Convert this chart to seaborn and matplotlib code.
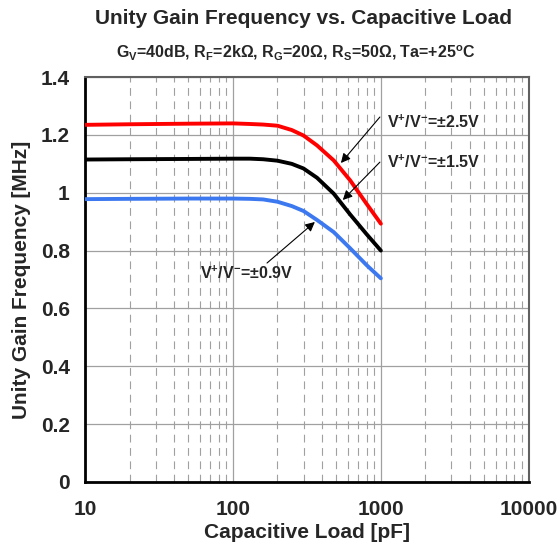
import numpy as np
import pandas as pd
import seaborn as sns
import matplotlib
matplotlib.use("Agg")
import matplotlib.pyplot as plt
from matplotlib.ticker import FixedLocator, NullFormatter, MultipleLocator

# Capacitive load [pF] and unity gain frequency [MHz] per supply voltage
cap_load = [10, 20, 50, 100, 130, 160, 200, 250, 300, 370, 480, 620, 800, 1000]
ugf_25v = [1.235, 1.237, 1.239, 1.240, 1.238, 1.236, 1.232, 1.217, 1.198, 1.164,
           1.112, 1.043, 0.962, 0.893]
ugf_15v = [1.115, 1.116, 1.117, 1.118, 1.118, 1.116, 1.111, 1.100, 1.084, 1.052,
           0.997, 0.925, 0.857, 0.800]
ugf_09v = [0.978, 0.979, 0.980, 0.980, 0.979, 0.977, 0.969, 0.954, 0.937, 0.906,
           0.864, 0.808, 0.750, 0.704]
series_names = ["±2.5V", "±1.5V", "±0.9V"]
series_colors = ["#FF0000", "#000000", "#3C78F0"]

x_ticks = [10, 100, 1000, 10000]
x_ticklabels = ["10", "100", "1000", "10000"]
y_ticks = [0, 0.2, 0.4, 0.6, 0.8, 1.0, 1.2, 1.4]
y_ticklabels = ["0", "0.2", "0.4", "0.6", "0.8", "1", "1.2", "1.4"]

df = pd.DataFrame({
    "cap": cap_load * 3,
    "ugf": ugf_25v + ugf_15v + ugf_09v,
    "supply": sum([[n] * len(cap_load) for n in series_names], []),
})

sns.set_style("white")
plt.rcParams["font.family"] = ["Liberation Sans", "DejaVu Sans"]
plt.rcParams["font.weight"] = "bold"
plt.rcParams["mathtext.fontset"] = "custom"
plt.rcParams["mathtext.rm"] = "Liberation Sans:bold"
plt.rcParams["mathtext.it"] = "Liberation Sans:bold"
plt.rcParams["mathtext.bf"] = "Liberation Sans:bold"

fig = plt.figure(figsize=(5.59, 5.59), dpi=100)
ax = fig.add_axes([0.152, 0.138, 0.794, 0.724])

sns.lineplot(data=df, x="cap", y="ugf", hue="supply", hue_order=series_names,
             palette=series_colors, linewidth=2.8, legend=False, ax=ax, zorder=3)
for ln in ax.get_lines():
    ln.set_solid_joinstyle("round")
    ln.set_solid_capstyle("round")

ax.set_xscale("log")
ax.set_xlim(10, 10000)
ax.set_ylim(0, 1.4)

# grid: solid at decades and 0.2 steps, dashed at minor decades
ax.xaxis.set_major_locator(FixedLocator(x_ticks))
ax.set_xticklabels(x_ticklabels)
minor_x = [m * d for d in (10, 100, 1000) for m in range(2, 10)]
ax.xaxis.set_minor_locator(FixedLocator(minor_x))
ax.xaxis.set_minor_formatter(NullFormatter())
ax.set_yticks(y_ticks)
ax.set_yticklabels(y_ticklabels)
ax.yaxis.set_minor_locator(MultipleLocator(0.1))

ax.grid(which="major", color="#A0A0A0", linewidth=0.9, linestyle="-", zorder=0)
ax.grid(which="minor", axis="x", color="#A0A0A0", linewidth=0.8,
        linestyle=(0, (7, 5)), zorder=0)

ax.tick_params(axis="x", which="both", length=0, pad=13, labelsize=15)
ax.tick_params(axis="y", which="both", direction="in", length=5, width=1,
               color="#404040", labelsize=15, pad=11)
for lab in ax.get_xticklabels() + ax.get_yticklabels():
    lab.set_fontweight("bold")

for side in ("left", "bottom"):
    ax.spines[side].set_color("black")
    ax.spines[side].set_linewidth(2)
for side in ("top", "right"):
    ax.spines[side].set_color("#606060")
    ax.spines[side].set_linewidth(1.5)

ax.set_xlabel("Capacitive Load [pF]", fontsize=15, fontweight="bold", labelpad=3)
ax.set_ylabel("Unity Gain Frequency [MHz]", fontsize=15, fontweight="bold", labelpad=7)

fig.text(0.543, 0.957, "Unity Gain Frequency vs. Capacitive Load",
         ha="center", va="baseline", fontsize=15, fontweight="bold")
fig.text(0.53, 0.898,
         r"G$_{\mathregular{V}}$=40dB, R$_{\mathregular{F}}$=2kΩ, R$_{\mathregular{G}}$=20Ω, "
         r"R$_{\mathregular{S}}$=50Ω, Ta=+25$^{\mathregular{o}}$C",
         ha="center", va="baseline", fontsize=11.5, fontweight="bold")

arrow = dict(arrowstyle="-|>", color="black", lw=0.8, mutation_scale=14,
             shrinkA=0, shrinkB=0)
label_prefix = r"V$^{+}$/V$^{-}$="

# arrows from each label to its curve
ax.annotate("", xy=(537, 1.103), xytext=(985, 1.262), arrowprops=arrow)
ax.annotate("", xy=(553, 0.975), xytext=(985, 1.106), arrowprops=arrow)
ax.annotate("", xy=(358, 0.899), xytext=(170, 0.757), arrowprops=arrow)

ax.text(1100, 1.244, label_prefix + series_names[0], fontsize=11.5,
        fontweight="bold", ha="left", va="center")
ax.text(1100, 1.106, label_prefix + series_names[1], fontsize=11.5,
        fontweight="bold", ha="left", va="center")
ax.text(60, 0.722, label_prefix + series_names[2], fontsize=11.5,
        fontweight="bold", ha="left", va="center")

fig.savefig("out.png", dpi=100)
